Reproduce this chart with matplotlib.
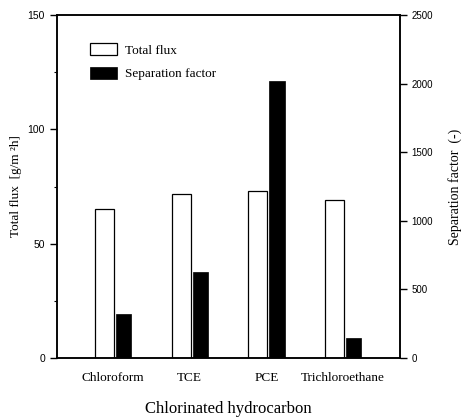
import matplotlib
matplotlib.use("Agg")
import matplotlib.pyplot as plt
import numpy as np

# data
categories = ["Chloroform", "TCE", "PCE", "Trichloroethane"]
total_flux = [65.2, 71.7, 73.0, 69.1]          # g/m2h
separation = [321, 627, 2019, 146]             # (-)

serif = "Liberation Serif"
sans = "Liberation Sans"

fig = plt.figure(figsize=(4.66, 4.17), dpi=100)
ax = fig.add_axes([0.122, 0.1415, 0.736, 0.8225])
ax2 = ax.twinx()

x = np.arange(len(categories))
b1 = ax.bar(x - 0.11, total_flux, width=0.25, color="white", edgecolor="black",
            linewidth=0.9, label="Total flux")
b2 = ax2.bar(x + 0.14, separation, width=0.2, color="black", edgecolor="black",
             linewidth=0.5, label="Separation factor")

ax.set_xlim(-0.73, 3.74)
ax.set_ylim(0, 150)
ax2.set_ylim(0, 2500)

ax.set_yticks([0, 50, 100, 150])
ax.set_yticks([25, 75, 125], minor=True)
ax2.set_yticks([0, 500, 1000, 1500, 2000, 2500])
ax.set_xticks(x)
ax.set_xticklabels(categories, fontfamily=serif, fontsize=9.5)
ax.tick_params(axis="x", length=0, pad=10)
ax.tick_params(axis="y", which="major", direction="out", length=5, width=1, labelsize=7.5)
ax.tick_params(axis="y", which="minor", direction="out", length=2.5, width=0.8)
ax2.tick_params(axis="y", direction="out", length=5, width=1, labelsize=7)
for lab in ax.get_yticklabels() + ax2.get_yticklabels():
    lab.set_fontfamily(sans)

for a in (ax, ax2):
    for s in a.spines.values():
        s.set_linewidth(1.1)

ax.set_ylabel("Total flux  [g/m ²h]", fontfamily=serif, fontsize=9.5, labelpad=4)
ax2.set_ylabel("Separation factor  (-)", fontfamily=serif, fontsize=10, labelpad=11)
ax.set_xlabel("Chlorinated hydrocarbon", fontfamily=serif, fontsize=12, labelpad=12)

ax2.legend([b1, b2], ["Total flux", "Separation factor"], loc="upper left",
           bbox_to_anchor=(0.096, 0.918), frameon=False, borderpad=0, borderaxespad=0,
           handlelength=2.1, handleheight=1.05, handletextpad=0.6, labelspacing=0.75,
           prop={"family": serif, "size": 9.5})

fig.savefig("out.png", dpi=100)
